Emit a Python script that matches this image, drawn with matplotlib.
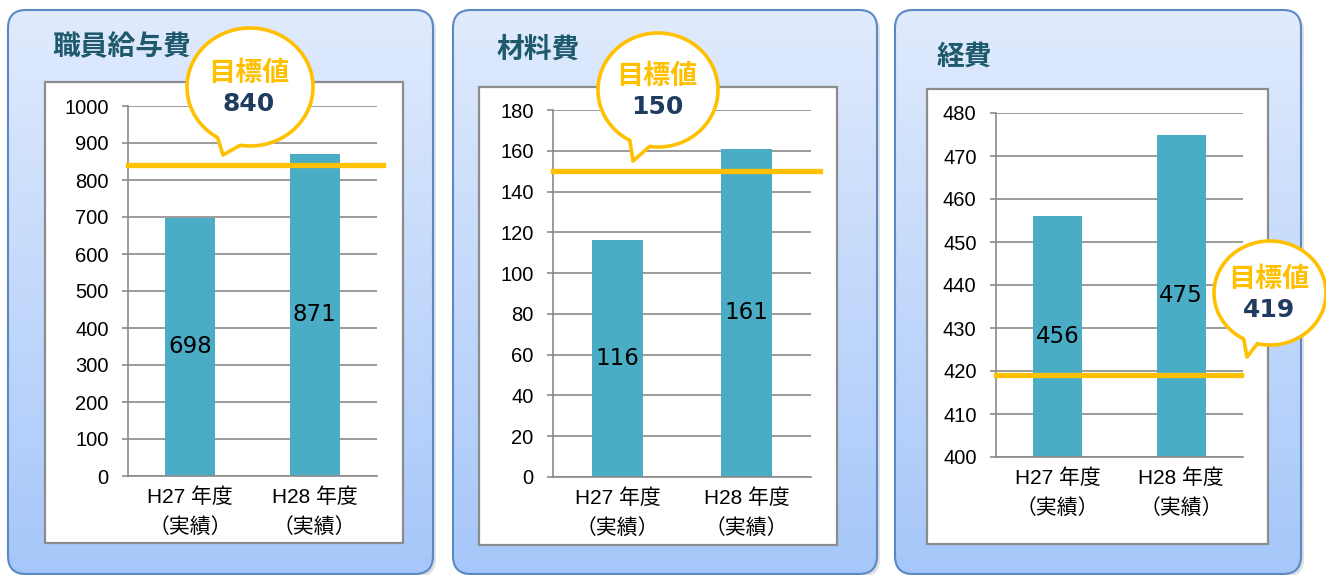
import numpy as np
import matplotlib.pyplot as plt
from matplotlib.patches import FancyBboxPatch, Polygon, Rectangle

# データ
titles = ['職員給与費', '材料費', '経費']
categories = ['H27 年度\n（実績）', 'H28 年度\n（実績）']
values = [[698, 871], [116, 161], [456, 475]]
targets = [840, 150, 419]
ylims = [(0, 1000), (0, 180), (400, 480)]
yticks = [np.arange(0, 1001, 100), np.arange(0, 181, 20), np.arange(400, 481, 10)]

W, H = 1326, 575
bar_color = '#4BACC6'
gold = '#FFC000'
grid_color = '#8A8A8A'
title_color = '#1F5A6C'
num_color = '#1F3B5F'

cjk = ['Noto Sans CJK JP', 'DejaVu Sans']
lat = ['Liberation Sans', 'Noto Sans CJK JP']

# レイアウト（ピクセル）
boxes = [(8, 10, 425, 564), (453, 10, 424, 564), (895, 10, 406, 564)]
frames = [(45, 82, 358, 461), (479, 87, 358, 458), (927, 89, 341, 455)]
plots = [(128, 106, 249, 370), (553, 110, 258, 367), (996, 113, 247, 344)]
title_pos = [(52, 47), (497, 50), (937, 57)]
line_xmax = [1.024, 1.035, 0.99]
# 吹き出し: 中心, 半径, 先端, 尾の角度
bubbles = [((250, 87), (63, 59), (223, 155), (99, 121)),
           ((658, 90), (60, 57), (633, 161), (98, 118)),
           ((1270, 293), (56, 52), (1247, 357), (103, 118))]


def px(x, y, w, h):
    return [x / W, 1 - (y + h) / H, w / W, h / H]


fig = plt.figure(figsize=(W / 100, H / 100), dpi=100)
bg = fig.add_axes([0, 0, 1, 1], zorder=0)
bg.set_xlim(0, W)
bg.set_ylim(H, 0)
bg.axis('off')

grad = np.linspace(0, 1, 256).reshape(-1, 1)
top = np.array([0.88, 0.92, 0.99])
bot = np.array([0.65, 0.78, 0.98])
grad_img = top + (bot - top) * grad[..., None]

for (bx, by, bw, bh), (fx, fy, fw, fh) in zip(boxes, frames):
    shadow = FancyBboxPatch((bx + 3, by + 3), bw, bh, boxstyle='round,pad=0,rounding_size=18',
                            fc='#000000', ec='none', alpha=0.12)
    bg.add_patch(shadow)
    box = FancyBboxPatch((bx, by), bw, bh, boxstyle='round,pad=0,rounding_size=18',
                         fc='none', ec='#5A89C4', lw=1.5, zorder=3)
    bg.add_patch(box)
    clip = FancyBboxPatch((bx, by), bw, bh, boxstyle='round,pad=0,rounding_size=18',
                          fc='none', ec='none')
    bg.add_patch(clip)
    im = bg.imshow(grad_img, extent=(bx, bx + bw, by + bh, by), aspect='auto', zorder=2)
    im.set_clip_path(clip)
    bg.add_patch(Rectangle((fx, fy), fw, fh, fc='white', ec='#8C8C8C', lw=1.6, zorder=4))

for i in range(3):
    tx, ty = title_pos[i]
    bg.text(tx, ty, titles[i], fontsize=20, fontweight='bold', color=title_color,
            family=cjk, va='center', ha='left', zorder=5)

    ax = fig.add_axes(px(*plots[i]), zorder=1)
    ax.set_facecolor('none')
    x = np.arange(len(categories))
    base = ylims[i][0]
    ax.bar(x, [v - base for v in values[i]], width=0.4, bottom=base,
           color=bar_color, zorder=2)
    ax.set_xlim(-0.5, 1.5)
    ax.set_ylim(*ylims[i])
    ax.set_yticks(yticks[i])
    ax.set_xticks(x)
    ax.set_xticklabels(categories, family=lat, fontsize=15, linespacing=1.65)
    for lab in ax.get_yticklabels():
        lab.set_family(lat)
        lab.set_fontsize(14.5)
    ax.grid(axis='y', color=grid_color, lw=1.2, zorder=0)
    for s in ['top', 'right']:
        ax.spines[s].set_visible(False)
    ax.spines['left'].set_color(grid_color)
    ax.spines['bottom'].set_color(grid_color)
    ax.spines['left'].set_linewidth(1.2)
    ax.spines['bottom'].set_linewidth(1.2)
    ax.tick_params(axis='y', length=4, color=grid_color, width=1.2, pad=10)
    ax.tick_params(axis='x', length=0, pad=8)
    for xi, v in zip(x, values[i]):
        ax.text(xi, (base + v) / 2, str(v), ha='center', va='center',
                fontsize=16.5, family='DejaVu Sans', zorder=4)
    ax.axhline(targets[i], xmin=0, xmax=line_xmax[i], color=gold, lw=3.8,
               zorder=3, clip_on=False)

# 吹き出し
ov = fig.add_axes([0, 0, 1, 1], zorder=10)
ov.set_facecolor('none')
ov.set_xlim(0, W)
ov.set_ylim(H, 0)
ov.axis('off')
for i, ((cx, cy), (rx, ry), tip, (a1, a2)) in enumerate(bubbles):
    t = np.radians(np.linspace(a2, a1 + 360, 200))
    pts = np.column_stack([cx + rx * np.cos(t), cy + ry * np.sin(t)])
    pts = np.vstack([pts, tip])
    ov.add_patch(Polygon(pts, closed=True, fc='white', ec=gold, lw=2.6, joinstyle='round'))
    ov.text(cx - 1, cy - 14, '目標値', ha='center', va='center', fontsize=19.5,
            fontweight='bold', color=gold, family=cjk)
    ov.text(cx - 1, cy + 17, str(targets[i]), ha='center', va='center', fontsize=18,
            fontweight='bold', color=num_color, family='DejaVu Sans')

fig.savefig('out.png', dpi=100)
